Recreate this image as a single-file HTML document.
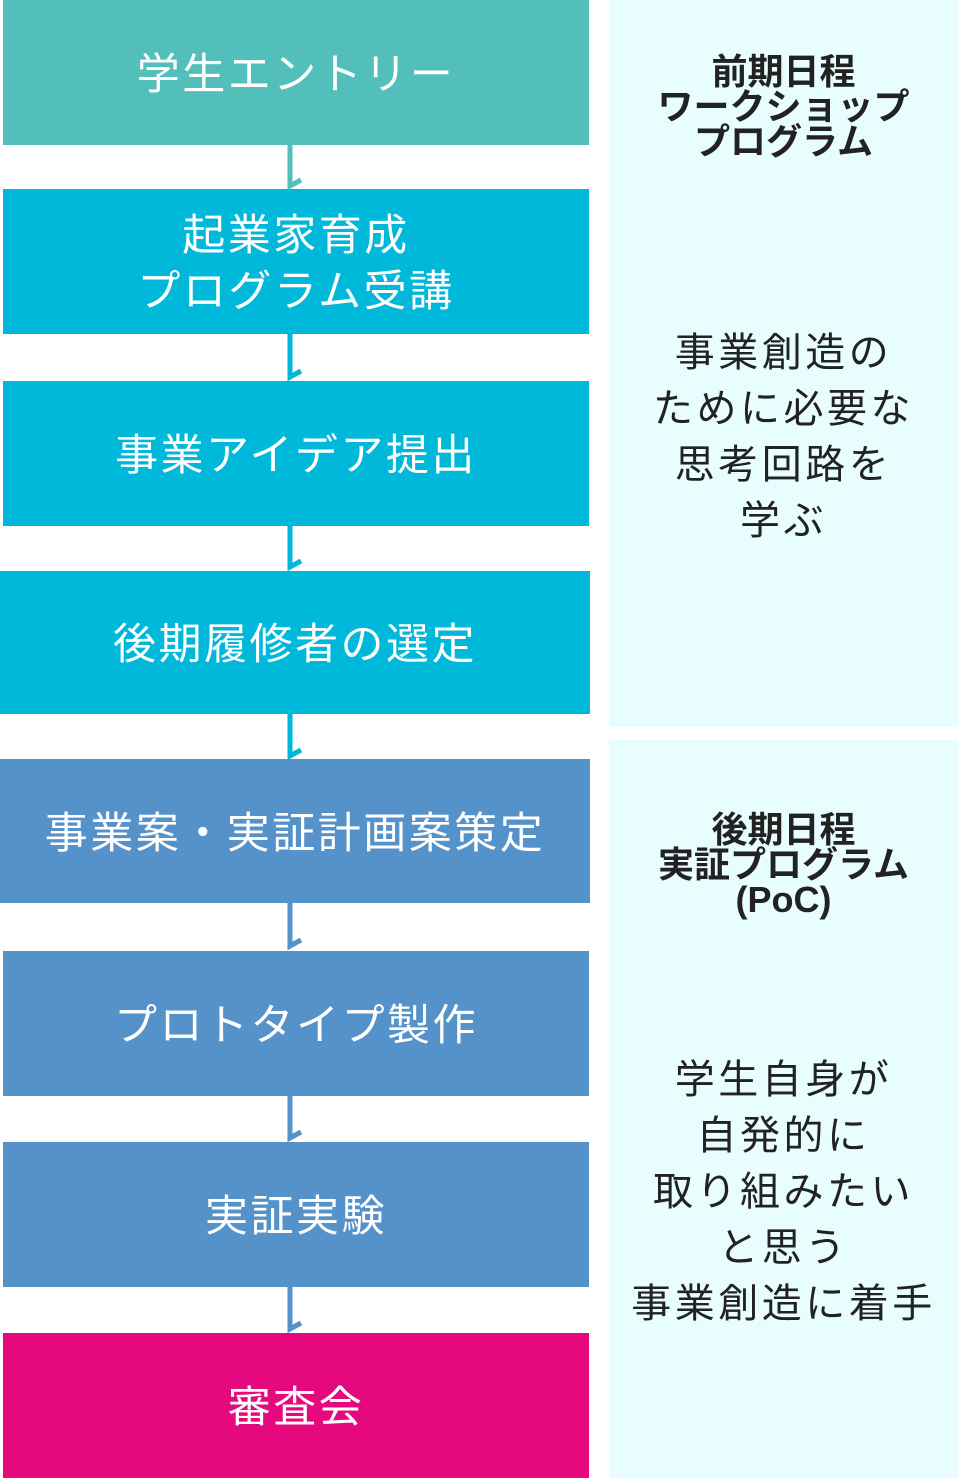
<!DOCTYPE html>
<html><head><meta charset="utf-8"><style>
body{margin:0;width:959px;height:1478px;position:relative;background:#fff;font-family:"Liberation Sans","Noto Sans CJK JP",sans-serif;overflow:hidden}
.b{position:absolute;left:3px;width:586px;height:145px;box-sizing:border-box;padding-top:5px;color:#fff;font-size:43px;display:flex;align-items:center;justify-content:center;text-align:center;line-height:56px;letter-spacing:2.5px}
.p{position:absolute;left:609px;width:349px;background:#E8FDFD;color:#222;text-align:center}
.h{position:absolute;left:-20px;right:-20px;font-weight:bold;font-size:36px;line-height:35px}
.t{position:absolute;left:-20px;right:-20px;font-size:40px;line-height:56px;letter-spacing:3.5px}
svg{position:absolute;left:0;top:0}
</style></head><body>
<div class="b" style="top:0;background:#52BFBA">学生エントリー</div>
<div class="b" style="top:189px;background:#00B8D9">起業家育成<br>プログラム受講</div>
<div class="b" style="top:381px;background:#00B8D9">事業アイデア提出</div>
<div class="b" style="top:571px;left:0;width:590px;height:143px;background:#00B8D9">後期履修者の選定</div>
<div class="b" style="top:759px;left:0;width:590px;height:144px;background:#5592CA">事業案・実証計画案策定</div>
<div class="b" style="top:951px;background:#5592CA">プロトタイプ製作</div>
<div class="b" style="top:1142px;background:#5592CA">実証実験</div>
<div class="b" style="top:1333px;background:#E6097E">審査会</div>
<svg width="959" height="1478" fill="none" stroke-width="5">
<path d="M290 144V186L301 180" stroke="#52BFBA"/>
<path d="M290 334V377L301 371" stroke="#00B8D9"/>
<path d="M290 525V567L301 561" stroke="#00B8D9"/>
<path d="M290 714V756L301 750" stroke="#00B8D9"/>
<path d="M290 903V946L301 940" stroke="#5592CA"/>
<path d="M290 1095V1138L301 1132" stroke="#5592CA"/>
<path d="M290 1287V1329L301 1323" stroke="#5592CA"/>
</svg>
<div class="p" style="top:0;height:727px">
<div class="h" style="top:54px">前期日程<br>ワークショップ<br>プログラム</div>
<div class="t" style="top:325px">事業創造の<br>ために必要な<br>思考回路を<br>学ぶ</div>
</div>
<div class="p" style="top:740px;height:738px">
<div class="h" style="top:72px">後期日程<br>実証プログラム<br>(PoC)</div>
<div class="t" style="top:312px">学生自身が<br>自発的に<br>取り組みたい<br>と思う<br>事業創造に着手</div>
</div>
</body></html>
